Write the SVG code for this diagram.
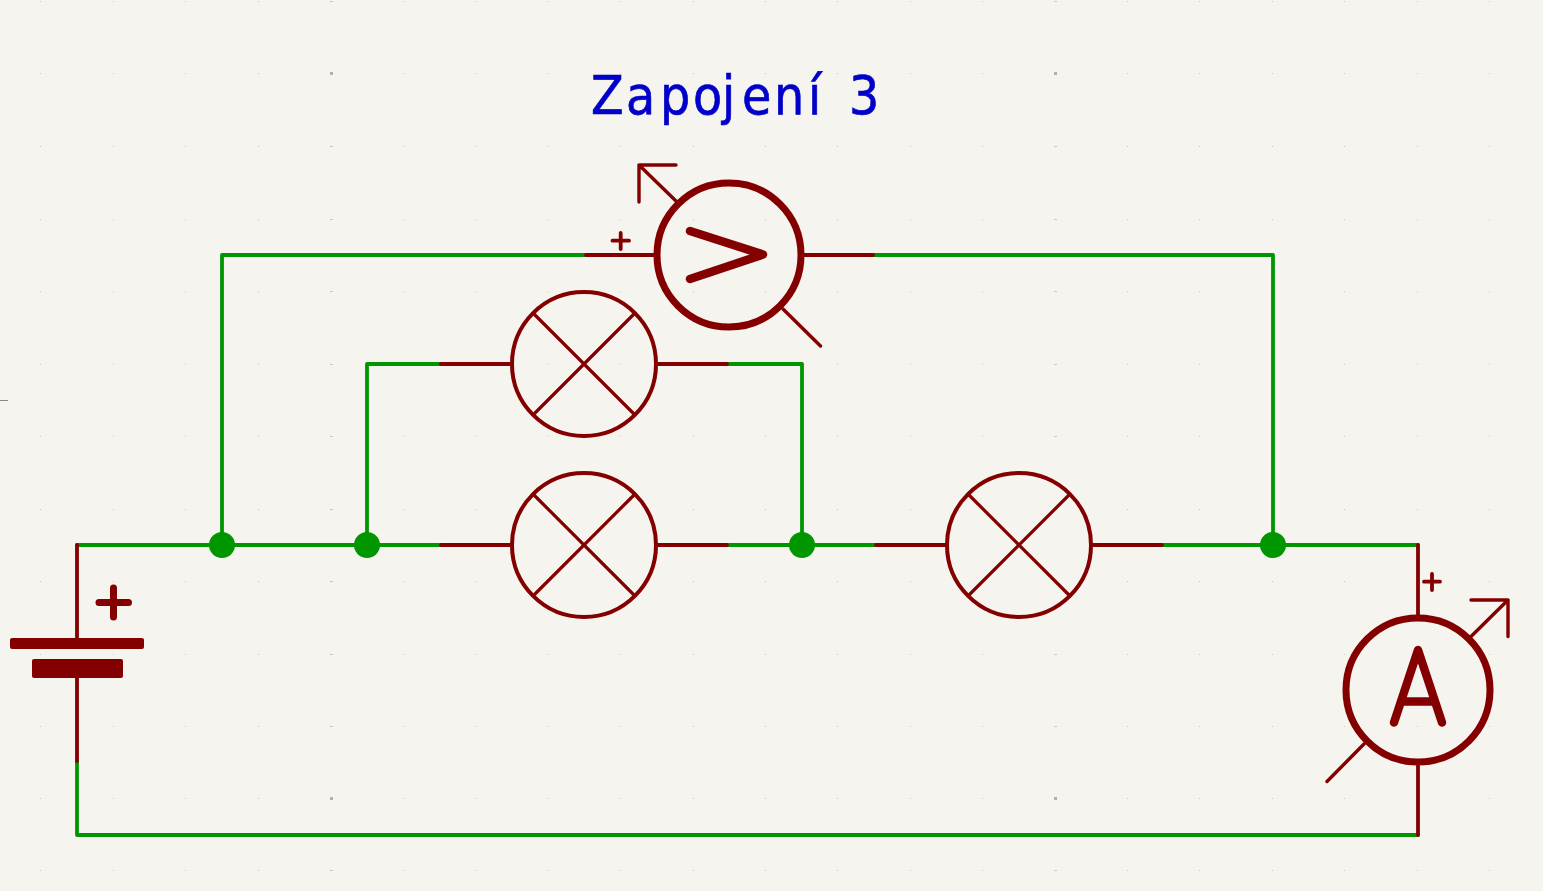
<svg xmlns="http://www.w3.org/2000/svg" xmlns:xlink="http://www.w3.org/1999/xlink" width="1543" height="891" viewBox="0 0 1543 891">
<style>
.w{fill:none;stroke:#009600;stroke-width:3.8;stroke-linecap:round;stroke-linejoin:round}
.p{fill:none;stroke:#840000;stroke-width:3.8;stroke-linecap:round;stroke-linejoin:round}
.l{fill:none;stroke:#840000;stroke-width:3.4;stroke-linecap:round;stroke-linejoin:round}
.x{fill:none;stroke:#840000;stroke-width:3.2;stroke-linecap:round}
.h{fill:none;stroke:#840000;stroke-width:7}
.g{fill:none;stroke:#840000;stroke-width:8.5;stroke-linecap:round;stroke-linejoin:round}
.j{fill:#009600}
.d{fill:#c8c8c4}
.m{fill:#b0b0ae}
.t{font-family:"DejaVu Sans",sans-serif;font-size:53px;fill:#0000c8;stroke:#0000c8;stroke-width:.7}
</style>
<defs>
<path id="row" class="d" d="M40 0h1v1h-1zM113 0h1v1h-1zM185 0h1v1h-1zM258 0h1v1h-1zM330 0h3v1h-3zM403 0h1v1h-1zM475 0h1v1h-1zM548 0h1v1h-1zM620 0h1v1h-1zM693 0h1v1h-1zM765 0h1v1h-1zM837 0h1v1h-1zM910 0h1v1h-1zM982 0h1v1h-1zM1054 0h3v1h-3zM1127 0h1v1h-1zM1199 0h1v1h-1zM1272 0h1v1h-1zM1344 0h1v1h-1zM1417 0h1v1h-1zM1489 0h1v1h-1z"/>
<g id="lamp">
<circle r="72" fill="none" stroke="#840000" stroke-width="4"/>
<path class="x" d="M-50 -50L50 50M-50 50L50 -50"/>
<path class="p" d="M-143 0H-72M72 0H143"/>
</g>
</defs>
<rect width="1543" height="891" fill="#f5f4ef"/>
<g id="grid">
<use xlink:href="#row" href="#row" y="1"/><use xlink:href="#row" href="#row" y="73"/><use xlink:href="#row" href="#row" y="146"/><use xlink:href="#row" href="#row" y="219"/><use xlink:href="#row" href="#row" y="291"/><use xlink:href="#row" href="#row" y="364"/><use xlink:href="#row" href="#row" y="436"/><use xlink:href="#row" href="#row" y="509"/><use xlink:href="#row" href="#row" y="581"/><use xlink:href="#row" href="#row" y="654"/><use xlink:href="#row" href="#row" y="726"/><use xlink:href="#row" href="#row" y="798"/><use xlink:href="#row" href="#row" y="870"/>
<rect class="m" x="330" y="72" width="3" height="3"/><rect class="m" x="1054" y="72" width="3" height="3"/><rect class="m" x="330" y="797" width="3" height="3"/><rect class="m" x="1054" y="797" width="3" height="3"/>
<rect x="0" y="400" width="8" height="1" fill="#888"/>
</g>
<g id="connectors">
<path class="w" d="M77 545H441M727 545H875M1163 545H1418M77 761V835H1418M222 545V255H586M873 255H1273V545M367 545V364H441M727 364H802V545"/>
<circle class="j" cx="222" cy="545" r="13"/><circle class="j" cx="367" cy="545" r="13"/><circle class="j" cx="802" cy="545" r="13"/><circle class="j" cx="1273" cy="545" r="13"/>
</g>
<g id="title"><text class="t" transform="scale(.9 1)" y="114.500" x="656.700 695.600 733.300 770 802.200 824.400 860 897.800 930 943.300">Zapojení 3</text></g>
<g id="lamp1"><use xlink:href="#lamp" href="#lamp" x="584" y="364"/></g>
<g id="lamp2"><use xlink:href="#lamp" href="#lamp" x="584" y="545"/></g>
<g id="lamp3"><use xlink:href="#lamp" href="#lamp" x="1019" y="545"/></g>
<g id="battery">
<path class="p" d="M77 545V640M77 676V761"/>
<rect x="10" y="638" width="134" height="11" rx="2" fill="#840000"/>
<rect x="32" y="659" width="91" height="19" rx="2" fill="#840000"/>
<path class="h" style="stroke-linecap:round" d="M99 602.500H128.500M113.500 588V617"/>
</g>
<g id="voltmeter">
<circle class="h" cx="729" cy="255" r="72"/>
<path class="g" d="M690 231L763 254.500L690 279"/>
<path class="l" d="M676.500 201.500L639 165H676M639 165V202M783 309L820.500 346"/>
<path class="p" d="M586 255H654M804 255H873M612.500 240.700H629M620.700 233V249"/>
</g>
<g id="ammeter">
<circle class="h" cx="1418" cy="690" r="72"/>
<path class="g" d="M1394 722.500L1418 650L1442 722.500M1401 701.500H1435"/>
<path class="l" d="M1471 636.500L1508 600H1471M1508 600V636.500M1364 744L1327 781.500"/>
<path class="p" d="M1418 545V615M1418 765V835M1424 581.700H1440M1432 574V590"/>
</g>
</svg>
